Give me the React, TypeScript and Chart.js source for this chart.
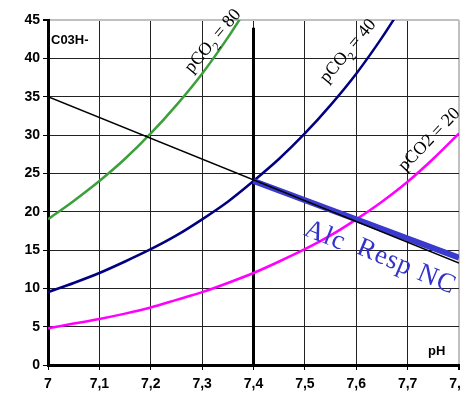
import React, { useEffect, useRef } from "react";
import { Chart, registerables } from "chart.js";

Chart.register(...registerables);

const phValues = [7, 7.05, 7.1, 7.15, 7.2, 7.25, 7.3, 7.35, 7.4, 7.45, 7.5, 7.55, 7.6, 7.65, 7.7, 7.75, 7.8];
const pco20 = [4.8, 5.4, 6.0, 6.7, 7.5, 8.5, 9.5, 10.7, 12.0, 13.5, 15.1, 16.9, 19.0, 21.3, 23.9, 26.9, 30.2];
const pco40 = [9.5, 10.7, 12.0, 13.5, 15.1, 16.9, 19.0, 21.3, 24.0, 26.9, 30.2, 33.9, 38.0, 42.7, 47.9];
const pco80 = [19.0, 21.4, 24.0, 26.9, 30.2, 33.9, 38.0, 42.7, 47.9];
const bufferLineX = [7, 7.8];
const bufferLineY = [35, 13.3];
const respLineX = [7.4, 7.8];
const respLineY = [24, 14.0];
const verticalX = [7.4, 7.4];
const verticalY = [0, 44];

const toPts = (xs: number[], ys: number[]) => ys.map((y, i) => ({ x: xs[i], y }));

type Label = { parts: { t: string; sub?: boolean }[]; x: number; y: number; angle: number; color: string; size: number; spacing: number };
const labels: Label[] = [
  { parts: [{ t: "pCO" }, { t: "2", sub: true }, { t: " = 80" }], x: 7.28, y: 38.0, angle: -50, color: "#000", size: 18, spacing: 0 },
  { parts: [{ t: "pCO" }, { t: "2", sub: true }, { t: " = 40" }], x: 7.543, y: 36.7, angle: -50, color: "#000", size: 18, spacing: 0 },
  { parts: [{ t: "pCO2 = 20" }], x: 7.695, y: 25.2, angle: -46, color: "#000", size: 18, spacing: 0 },
  { parts: [{ t: "Alc" }], x: 7.496, y: 17.0, angle: 22, color: "#3333cc", size: 27, spacing: 1 },
  { parts: [{ t: "Resp NC" }], x: 7.598, y: 14.6, angle: 23, color: "#3333cc", size: 27, spacing: 1 },
];

const textPlugin = {
  id: "texts",
  afterDatasetsDraw(chart: any) {
    const { ctx, scales, chartArea } = chart;
    ctx.save();
    ctx.fillStyle = "#000";
    ctx.font = "bold 13px 'Liberation Sans', Arial, sans-serif";
    ctx.textBaseline = "alphabetic";
    ctx.textAlign = "left";
    ctx.fillText("C03H-", chartArea.left + 3, chartArea.top + 24);
    ctx.fillText("pH", chartArea.right - 31, chartArea.bottom - 10);
    for (const l of labels) {
      const px = scales.x.getPixelForValue(l.x);
      const py = scales.y.getPixelForValue(l.y);
      ctx.save();
      ctx.translate(px, py);
      ctx.rotate((l.angle * Math.PI) / 180);
      ctx.fillStyle = l.color;
      (ctx as any).letterSpacing = `${l.spacing}px`;
      let cx = 0;
      for (const p of l.parts) {
        const sz = p.sub ? Math.round(l.size * 0.65) : l.size;
        ctx.font = `${sz}px 'Liberation Serif', 'Times New Roman', serif`;
        ctx.fillText(p.t, cx, p.sub ? l.size * 0.3 : 0);
        cx += ctx.measureText(p.t).width;
      }
      ctx.restore();
    }
    ctx.restore();
  },
};

export default function App() {
  const ref = useRef<HTMLCanvasElement>(null);
  useEffect(() => {
    if (!ref.current) return;
    const chart = new Chart(ref.current, {
      type: "line",
      data: {
        datasets: [
          { data: toPts(bufferLineX, bufferLineY), borderColor: "#000", borderWidth: 1.5, pointRadius: 0 },
          { data: toPts(respLineX, respLineY), borderColor: "#3a3acc", borderWidth: 6, pointRadius: 0 },
          { data: toPts(phValues, pco80), borderColor: "#3c9f3c", borderWidth: 2.5, pointRadius: 0, tension: 0.3 },
          { data: toPts(phValues, pco40), borderColor: "#000080", borderWidth: 2.5, pointRadius: 0, tension: 0.3 },
          { data: toPts(phValues, pco20), borderColor: "#ff00ff", borderWidth: 2.5, pointRadius: 0, tension: 0.3 },
          { data: toPts(verticalX, verticalY), borderColor: "#000", borderWidth: 3, pointRadius: 0 },
        ],
      },
      options: {
        responsive: false,
        animation: false,
        layout: { padding: { top: 20, right: 21, left: 0, bottom: 0 } },
        plugins: { legend: { display: false }, tooltip: { enabled: false } },
        scales: {
          x: {
            type: "linear",
            min: 7,
            max: 7.8,
            afterFit: (s: any) => { s.height = 35; },
            border: { color: "#000", width: 3 },
            grid: {
              color: (c: any) => (c.tick && Math.abs(c.tick.value - 7.8) < 1e-6 ? "#c0c0c0" : "#222"),
              lineWidth: (c: any) => (c.tick && Math.abs(c.tick.value - 7.8) < 1e-6 ? 2 : 1),
              tickLength: 5,
              tickColor: "#000",
            },
            ticks: {
              stepSize: 0.1,
              autoSkip: false,
              maxRotation: 0,
              padding: 6,
              color: "#000",
              font: { family: "'Liberation Sans', Arial, sans-serif", size: 14, weight: "bold" },
              callback: (v: any) => {
                const n = Number(v);
                return Math.abs(n - 7) < 1e-6 ? "7" : n.toFixed(1).replace(".", ",");
              },
            },
          },
          y: {
            min: 0,
            max: 45,
            afterFit: (s: any) => { s.width = 48; },
            border: { color: "#000", width: 3 },
            grid: {
              color: (c: any) => (c.tick && c.tick.value === 45 ? "#c0c0c0" : "#222"),
              lineWidth: (c: any) => (c.tick && c.tick.value === 45 ? 2 : 1),
              tickLength: 5,
              tickColor: "#000",
            },
            ticks: {
              stepSize: 5,
              padding: 3,
              color: "#000",
              font: { family: "'Liberation Sans', Arial, sans-serif", size: 14, weight: "bold" },
            },
          },
        },
      },
      plugins: [textPlugin],
    } as any);
    return () => chart.destroy();
  }, []);
  return (
    <div style={{ position: "fixed", left: 0, top: 0, width: 461, height: 400, overflow: "hidden", background: "#fff" }}>
      <canvas ref={ref} width={480} height={400} style={{ display: "block" }} />
    </div>
  );
}
